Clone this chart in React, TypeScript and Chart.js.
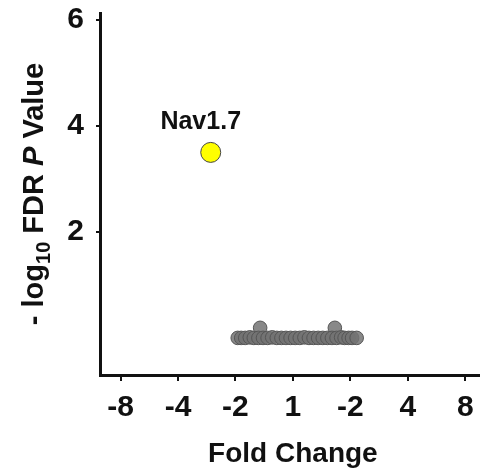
import React, { useEffect, useRef } from "react";
import { Chart, registerables } from "chart.js";

Chart.register(...registerables);

const xTickPositions = [-3, -2, -1, 0, 1, 2, 3];
const xTickLabels = ["-8", "-4", "-2", "1", "-2", "4", "8"];
const yTickValues = [2, 4, 6];

const grayX = [-0.96, -0.9, -0.83, -0.75, -0.68, -0.6, -0.52, -0.44, -0.36, -0.28, -0.2, -0.12, -0.04, 0.04, 0.12, 0.2, 0.28, 0.36, 0.44, 0.52, 0.6, 0.68, 0.76, 0.84, 0.9, 0.97, 1.03, 1.11];
const grayY = [0.0, 0.0, 0.0, 0.01, 0.0, 0.0, 0.0, 0.0, 0.01, 0.0, 0.0, 0.0, 0.0, 0.0, 0.0, 0.01, 0.0, 0.0, 0.0, 0.0, 0.0, 0.0, 0.0, 0.01, 0.0, 0.0, 0.0, 0.0];
const raisedX = [-0.57, 0.73];
const raisedY = [0.19, 0.19];

const highlightX = [-1.43];
const highlightY = [3.5];
const highlightLabel = "Nav1.7";

const FONT = "'Liberation Sans', Arial, sans-serif";

export default function App() {
  const ref = useRef<HTMLCanvasElement | null>(null);
  useEffect(() => {
    const canvas = ref.current;
    if (!canvas) return;
    const annot = {
      id: "annot",
      afterDraw(chart: any) {
        const ctx = chart.ctx as CanvasRenderingContext2D;
        const xs = chart.scales.x;
        const ys = chart.scales.y;
        ctx.save();
        ctx.fillStyle = "#111";
        const px = xs.getPixelForValue(highlightX[0]);
        const py = ys.getPixelForValue(highlightY[0]);
        ctx.font = `bold 25px ${FONT}`;
        ctx.textAlign = "center";
        ctx.textBaseline = "alphabetic";
        ctx.fillText(highlightLabel, px - 10, py - 23);
        ctx.font = `bold 28px ${FONT}`;
        ctx.fillText("Fold Change", xs.getPixelForValue(0), 462);
        const parts: { t: string; f: string; dy: number }[] = [
          { t: "- log", f: `bold 29px ${FONT}`, dy: 0 },
          { t: "10", f: `bold 20px ${FONT}`, dy: 7 },
          { t: " FDR ", f: `bold 29px ${FONT}`, dy: 0 },
          { t: "P", f: `italic bold 29px ${FONT}`, dy: 0 },
          { t: " Value", f: `bold 29px ${FONT}`, dy: 0 },
        ];
        let total = 0;
        for (const p of parts) {
          ctx.font = p.f;
          total += ctx.measureText(p.t).width;
        }
        ctx.translate(43, 194);
        ctx.rotate(-Math.PI / 2);
        ctx.textAlign = "left";
        let cx = -total / 2;
        for (const p of parts) {
          ctx.font = p.f;
          ctx.fillText(p.t, cx, p.dy);
          cx += ctx.measureText(p.t).width;
        }
        ctx.restore();
      },
    };
    const gray = {
      backgroundColor: "rgba(115,115,115,0.85)",
      borderColor: "#555",
      borderWidth: 1,
      pointRadius: 6.8,
    };
    const chart = new Chart(canvas, {
      type: "scatter",
      data: {
        datasets: [
          { data: grayX.map((x, i) => ({ x, y: grayY[i] })), ...gray },
          { data: raisedX.map((x, i) => ({ x, y: raisedY[i] })), ...gray },
          {
            data: highlightX.map((x, i) => ({ x, y: highlightY[i] })),
            backgroundColor: "#ffff00",
            borderColor: "#444",
            borderWidth: 1,
            pointRadius: 10,
          },
        ],
      },
      options: {
        responsive: false,
        animation: false,
        layout: { padding: { top: 13, left: 0, right: 0, bottom: 0 } },
        plugins: { legend: { display: false }, tooltip: { enabled: false } },
        scales: {
          x: {
            type: "linear",
            min: -3.357,
            max: 3.5,
            afterFit(scale: any) {
              scale.height = 95;
              scale.paddingLeft = 0;
              scale.paddingRight = 0;
            },
            afterBuildTicks(scale: any) {
              scale.ticks = xTickPositions.map((v) => ({ value: v }));
            },
            ticks: {
              autoSkip: false,
              maxRotation: 0,
              padding: 9,
              color: "#111",
              font: { family: FONT, weight: "bold", size: 30 },
              callback: (_v: any, i: number) => xTickLabels[i],
            },
            grid: {
              display: true,
              drawOnChartArea: false,
              drawTicks: true,
              tickLength: 6,
              lineWidth: 2,
              color: "#111",
            },
            border: { display: true, color: "#111", width: 3 },
          },
          y: {
            type: "linear",
            min: -0.7,
            max: 6.13,
            afterFit(scale: any) {
              scale.width = 100;
              scale.paddingTop = 0;
              scale.paddingBottom = 0;
            },
            afterBuildTicks(scale: any) {
              scale.ticks = yTickValues.map((v) => ({ value: v }));
            },
            ticks: {
              padding: 12,
              color: "#111",
              font: { family: FONT, weight: "bold", size: 30 },
              callback: (v: any) => String(v),
            },
            grid: {
              display: true,
              drawOnChartArea: false,
              drawTicks: true,
              tickLength: 4,
              lineWidth: 2,
              color: "#111",
            },
            border: { display: true, color: "#111", width: 3 },
          },
        },
      },
      plugins: [annot],
    } as any);
    return () => chart.destroy();
  }, []);
  return (
    <div style={{ position: "fixed", left: 0, top: 0, width: 480, height: 470, overflow: "hidden", background: "#fff" }}>
      <canvas ref={ref} width={505} height={470} style={{ width: 505, height: 470, display: "block" }} />
    </div>
  );
}
